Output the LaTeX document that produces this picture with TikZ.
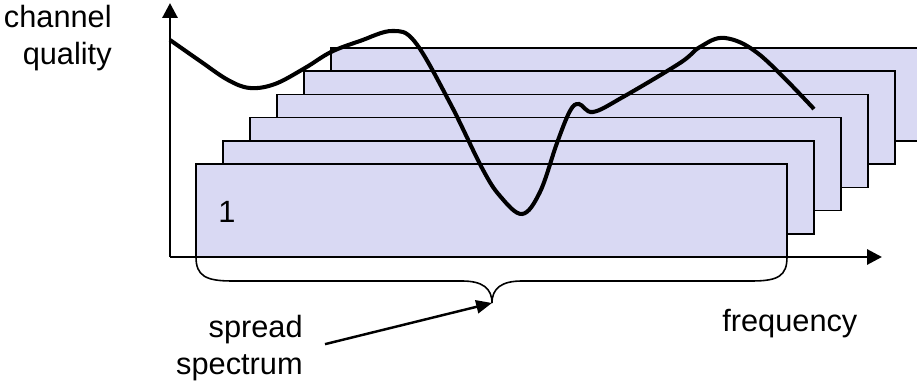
\documentclass[tikz,border=0pt]{standalone}
\usepackage{fontspec}
\setmainfont{Liberation Sans}
\usetikzlibrary{arrows.meta}
\definecolor{band}{HTML}{D9D9F3}
\definecolor{ink}{HTML}{000000}

\begin{document}
\begin{tikzpicture}[x=0.02cm,y=-0.02cm,
  txt/.style={font=\fontsize{17.5}{21.5}\selectfont,inner sep=0pt},
  bandbox/.style={fill=band,draw=ink,line width=0.9pt},
  axis/.style={ink,line width=1.7pt,-{Triangle[length=8.5pt,width=8.5pt]}},
  pointer/.style={ink,line width=1.4pt,-{Triangle[length=9pt,width=7.5pt]}}]
  \useasboundingbox (0,0) rectangle (917,384);
  \clip (0,0) rectangle (917,384);

  % shifted frequency bands, back to front
  \foreach \i in {5,4,...,0}
    \draw[bandbox] ({196+27*\i},{164-23.2*\i}) rectangle +(591,93);
  \node[txt,anchor=base west] (bandone) at (218,223) {1};

  % axes
  \coordinate (origin) at (170,257);
  \coordinate (ytip) at (170,3);
  \coordinate (xtip) at (882,257);
  \draw[axis] (origin) -- (ytip);
  \draw[axis] (origin) -- (xtip);
  \node[txt,anchor=base east,align=right] (ylabel) at (112,65) {channel\\quality};
  \node[txt,anchor=base west] (xlabel) at (722,332) {frequency};

  % channel quality over frequency
  \draw[ink,line width=2.3pt]
    plot[smooth,tension=0.6] coordinates {(170,40) (200,61) (228,80) (250,88) (275,84)
      (305,68) (331,52) (360,41) (392,31) (415,42) (450,103) (482,168) (500,196)
      (522,214) (540,192) (557,143) (570,111) (579,104) (593,112) (623,97) (680,63)
      (700,47) (725,38) (760,55) (814,109)};

  % brace under band 1
  \coordinate (bracetip) at (492,303);
  \draw[ink,line width=0.9pt] (196,257) .. controls (196,276) and (206,281) .. (232,281)
    -- (462,281) .. controls (482,281) and (492,288) .. (bracetip)
    .. controls (492,288) and (502,281) .. (522,281)
    -- (752,281) .. controls (778,281) and (787,276) .. (787,257);
  \node[txt,anchor=base east,align=right] (spreadlabel) at (303,375) {spread\\spectrum};
  \draw[pointer] ([shift={(22,-4)}]spreadlabel.east) -- (bracetip);
\end{tikzpicture}
\end{document}
